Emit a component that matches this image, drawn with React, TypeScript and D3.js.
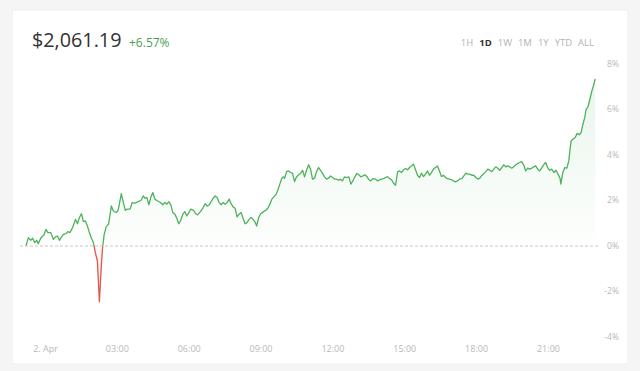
import { useMemo } from 'react'
import * as d3 from 'd3'

// minutes from midnight (2. Apr)
const minutes = [
  -49, -43, -37, -32, -27, -22, -18, -12, -7, -4, 1, 6, 13, 20, 25, 30, 35, 40, 45, 51,
  56, 61, 68, 75, 80, 85, 90, 95, 100, 105, 110, 115, 120, 125, 130, 135, 140, 143, 147, 152,
  158, 165, 170, 177, 182, 190, 195, 200, 205, 212, 217, 224, 232, 239, 245, 249, 254, 259, 264, 269,
  274, 281, 288, 294, 299, 304, 309, 314, 319, 324, 329, 334, 339, 344, 349, 354, 359, 364, 371, 376,
  381, 388, 395, 400, 405, 410, 415, 420, 425, 430, 435, 440, 445, 450, 455, 460, 465, 470, 475, 480,
  485, 490, 495, 500, 505, 510, 515, 520, 525, 529, 534, 539, 546, 552, 557, 562, 567, 572, 577, 582,
  587, 592, 596, 599, 604, 609, 614, 619, 624, 629, 634, 639, 644, 649, 654, 659, 664, 669, 674, 679,
  684, 689, 694, 699, 704, 709, 714, 719, 724, 729, 734, 739, 744, 749, 754, 760, 765, 770, 775, 780,
  785, 790, 795, 800, 805, 810, 815, 820, 827, 832, 837, 842, 847, 852, 857, 862, 867, 872, 877, 882,
  887, 892, 897, 902, 907, 912, 917, 922, 927, 932, 937, 942, 947, 952, 957, 962, 967, 972, 977, 982,
  987, 992, 997, 1002, 1007, 1012, 1017, 1022, 1027, 1032, 1037, 1043, 1048, 1053, 1058, 1063, 1068, 1073, 1078, 1083,
  1088, 1093, 1098, 1103, 1108, 1113, 1118, 1123, 1128, 1133, 1138, 1143, 1148, 1153, 1158, 1163, 1168, 1173, 1178, 1183,
  1188, 1193, 1198, 1203, 1208, 1213, 1218, 1223, 1228, 1233, 1238, 1243, 1248, 1253, 1258, 1263, 1268, 1274, 1279, 1284,
  1289, 1291, 1296, 1301, 1306, 1311, 1314, 1317, 1322, 1327, 1332, 1337, 1342, 1346, 1351, 1354, 1359, 1364, 1369, 1374,
  1377,
]

// % change vs. start of window
const changePct = [
  0.0, 0.37, 0.25, 0.34, 0.15, 0.25, 0.1, 0.34, 0.44, 0.48, 0.73, 0.59, 0.59, 0.29, 0.4, 0.44, 0.25, 0.4, 0.51, 0.54,
  0.63, 0.59, 0.81, 1.17, 0.98, 1.25, 1.42, 1.07, 1.1, 0.88, 0.59, 0.34, 0.15, -0.3, -0.66, -2.45, -0.81, -0.07, 0.51, 0.84,
  0.96, 1.76, 1.54, 1.47, 1.57, 2.3, 1.91, 1.57, 1.62, 1.62, 1.91, 1.88, 1.95, 2.0, 2.2, 2.1, 2.13, 1.81, 2.16, 2.35,
  2.06, 1.98, 1.91, 1.81, 1.91, 1.84, 1.95, 1.81, 1.47, 1.4, 1.22, 0.98, 1.13, 1.4, 1.51, 1.32, 1.47, 1.62, 1.57, 1.42,
  1.37, 1.51, 1.69, 1.86, 1.76, 1.81, 1.95, 2.1, 2.2, 2.13, 1.91, 1.81, 1.91, 1.84, 1.91, 2.06, 1.86, 1.72, 1.66, 1.28,
  1.4, 1.47, 1.22, 0.98, 1.03, 1.17, 1.25, 1.17, 1.05, 0.88, 1.25, 1.42, 1.51, 1.57, 1.66, 1.84, 2.06, 2.16, 2.25, 2.45,
  2.72, 2.98, 3.04, 2.98, 3.27, 3.3, 3.23, 3.19, 2.83, 3.04, 3.13, 3.19, 3.33, 3.04, 3.33, 3.57, 3.38, 2.94, 2.98, 3.27,
  3.45, 3.33, 3.19, 3.04, 2.94, 2.98, 3.08, 3.01, 2.94, 2.94, 2.89, 2.94, 2.86, 3.04, 3.01, 3.04, 2.72, 2.86, 3.04, 3.19,
  3.13, 3.04, 3.08, 3.13, 3.06, 2.92, 2.86, 2.96, 2.94, 2.86, 2.91, 2.94, 2.96, 3.01, 3.05, 2.96, 2.91, 2.76, 2.67, 3.26,
  3.3, 3.23, 3.35, 3.41, 3.35, 3.45, 3.52, 3.6, 3.35, 3.11, 3.01, 3.2, 3.05, 3.16, 3.3, 3.11, 3.23, 3.38, 3.45, 3.52,
  3.3, 3.05, 3.11, 3.01, 2.96, 2.94, 2.91, 2.86, 2.82, 2.86, 2.94, 2.96, 3.08, 3.2, 3.16, 3.16, 3.11, 3.11, 3.01, 2.94,
  2.98, 3.1, 3.18, 3.27, 3.38, 3.33, 3.27, 3.38, 3.48, 3.42, 3.33, 3.45, 3.57, 3.48, 3.52, 3.48, 3.42, 3.48, 3.57, 3.63,
  3.67, 3.71, 3.57, 3.3, 3.42, 3.38, 3.42, 3.48, 3.52, 3.38, 3.3, 3.42, 3.57, 3.67, 3.45, 3.33, 3.38, 3.23, 3.33, 3.16,
  2.98, 2.72, 3.23, 3.45, 3.42, 3.74, 4.26, 4.63, 4.7, 4.77, 4.95, 4.89, 4.99, 5.33, 5.65, 5.98, 6.12, 6.46, 6.83, 7.12,
  7.34,
]

const yTicks = [-4, -2, 0, 2, 4, 6, 8]
const ranges = ['1H', '1D', '1W', '1M', '1Y', 'YTD', 'ALL']
const activeRange = '1D'
const price = '$2,061.19'
const change = '+6.57%'

const W = 640
const H = 371
const FONT = '"Open Sans", "Noto Sans", sans-serif'
const GREEN = '#4db25a'
const RED = '#e5534b'

const day = new Date(2023, 3, 2)
const toDate = (m: number) => new Date(day.getTime() + m * 60000)

export default function App() {
  const data = minutes.map((m, i) => ({ t: toDate(m), v: changePct[i] }))

  const x = d3.scaleTime()
    .domain([day, toDate(1440)])
    .range([45.5, 45.5 + 23.95 * 24])
  const y = d3.scaleLinear().domain([-4, 8]).range([337, 64])
  const y0 = y(0)

  const line = d3.line<{ t: Date; v: number }>()
    .x(d => x(d.t))
    .y(d => y(d.v))
  const area = d3.area<{ t: Date; v: number }>()
    .x(d => x(d.t))
    .y0(y0)
    .y1(d => y(d.v))

  const xTicks = x.ticks(d3.timeHour.every(3)!).filter(t => t < toDate(1380))
  const fmtTick = (t: Date) => (t.getHours() === 0 ? d3.timeFormat('%-d. %b')(t) : d3.timeFormat('%H:%M')(t))

  // lay the range buttons out right-aligned, measured with canvas
  const rangeX = useMemo(() => {
    const ctx = document.createElement('canvas').getContext('2d')!
    const widths = ranges.map(r => {
      ctx.font = `${r === activeRange ? 'bold ' : ''}9.5px ${FONT}`
      return ctx.measureText(r).width
    })
    const gap = 6
    const total = d3.sum(widths) + gap * (ranges.length - 1)
    let cur = 594 - total
    return widths.map(w => {
      const s = cur
      cur += w + gap
      return s
    })
  }, [])

  return (
    <svg width={W} height={H} style={{ position: 'absolute', left: 0, top: 0, display: 'block' }}>
      <defs>
        <clipPath id="above">
          <rect x={0} y={0} width={W} height={y0} />
        </clipPath>
        <clipPath id="below">
          <rect x={0} y={y0} width={W} height={H - y0} />
        </clipPath>
        <linearGradient id="gFill" gradientUnits="userSpaceOnUse" x1={0} y1={y(8)} x2={0} y2={y0}>
          <stop offset="0%" stopColor={GREEN} stopOpacity={0.13} />
          <stop offset="100%" stopColor={GREEN} stopOpacity={0.01} />
        </linearGradient>
        <linearGradient id="rFill" gradientUnits="userSpaceOnUse" x1={0} y1={y0} x2={0} y2={y(-4)}>
          <stop offset="0%" stopColor={RED} stopOpacity={0.04} />
          <stop offset="100%" stopColor={RED} stopOpacity={0.16} />
        </linearGradient>
      </defs>

      <rect x={0} y={0} width={W} height={H} fill="#f5f5f5" />
      <rect x={12} y={10} width={616} height={354} rx={2} fill="#fff" stroke="#eeeeee" />

      <text x={32} y={47} fontFamily={FONT} fontSize={19.8} fill="#333">{price}</text>
      <text x={129} y={47} fontFamily={FONT} fontSize={12} fill="#4e9e55">{change}</text>

      {ranges.map((r, i) => (
        <text
          key={r}
          x={rangeX[i]}
          y={46}
          fontFamily={FONT}
          fontSize={9.5}
          fontWeight={r === activeRange ? 'bold' : 'normal'}
          fill={r === activeRange ? '#333' : '#b3b3b3'}
        >
          {r}
        </text>
      ))}

      {yTicks.map(t => (
        <text key={t} x={619} y={y(t)} dy="0.35em" textAnchor="end" fontFamily={FONT} fontSize={8.5} fill="#b8b8b8">
          {t}%
        </text>
      ))}

      {xTicks.map(t => (
        <text key={+t} x={x(t)} y={352} textAnchor="middle" fontFamily={FONT} fontSize={9} fill="#b8b8b8">
          {fmtTick(t)}
        </text>
      ))}

      <g clipPath="url(#above)">
        <path d={area(data) || ''} fill="url(#gFill)" />
        <path d={line(data) || ''} fill="none" stroke={GREEN} strokeWidth={1.3} strokeLinejoin="round" />
      </g>
      <g clipPath="url(#below)">
        <path d={area(data) || ''} fill="url(#rFill)" />
        <path d={line(data) || ''} fill="none" stroke={RED} strokeWidth={1.3} strokeLinejoin="round" />
      </g>

      <line x1={20} x2={600} y1={y0} y2={y0} stroke="#c8c8c8" strokeDasharray="3,2" />
    </svg>
  )
}
